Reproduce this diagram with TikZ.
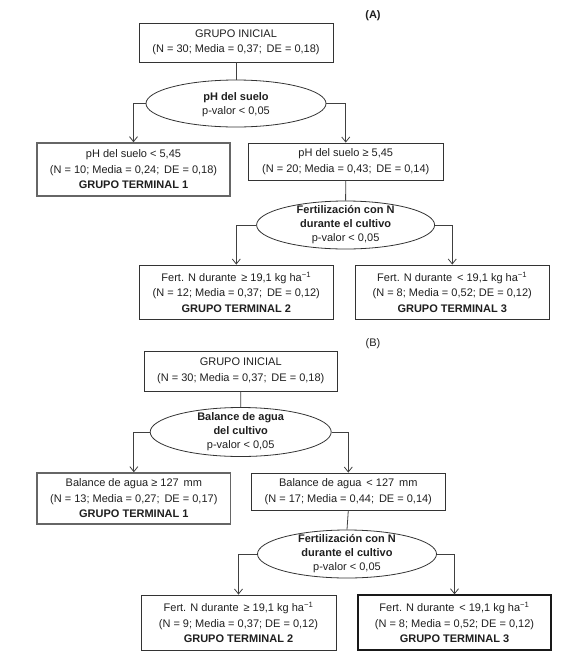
\documentclass[tikz,border=0pt]{standalone}
\usepackage{fontspec}
\setmainfont{Liberation Sans}
\usetikzlibrary{shapes.geometric,arrows.meta}
\begin{document}
\begin{tikzpicture}[x=1pt,y=-1pt,
  every node/.style={font=\fontsize{11}{15.5}\selectfont, text=black!88},
  box/.style={draw=black!80, line width=0.8pt, align=center, inner sep=0pt},
  boxL/.style={box, draw=black!60, line width=1.5pt},
  boxT/.style={box, draw=black!90, line width=1.3pt},
  ell/.style={draw=black!80, line width=0.8pt, ellipse, inner sep=0pt},
  etext/.style={align=center, inner sep=0pt, font=\fontsize{11}{14}\selectfont},
  ln/.style={draw=black!75, line width=0.8pt},
  arr/.style={ln, -{Straight Barb[length=5pt,width=8pt]}},
  lbl/.style={inner sep=0pt}
]
\useasboundingbox (0,0) rectangle (568,662);
% ---------------- (A)
\node[lbl] (la) at (373,16) {\textbf{(A)}};
\node[box, minimum width=194pt, minimum height=39pt] (a0) at (236,42.5)
  {GRUPO INICIAL\\(N = 30; Media = 0,37;\, DE = 0,18)};
\node[ell, minimum width=180pt, minimum height=47pt] (a1) at (236,103.5) {};
\node[etext] (a1t) at (236,105) {\textbf{pH del suelo}\\p-valor < 0,05};
\node[boxL, minimum width=193pt, minimum height=53pt] (a2) at (133.5,169.5)
  {pH del suelo < 5,45\\(N = 10; Media = 0,24;\, DE = 0,18)\\\textbf{GRUPO TERMINAL 1}};
\node[box, minimum width=194.5pt, minimum height=37pt] (a3) at (345.75,161.5)
  {pH del suelo ≥ 5,45\\(N = 20; Media = 0,43;\, DE = 0,14)};
\node[ell, minimum width=178pt, minimum height=48pt] (a4) at (345.6,225) {};
\node[etext] (a4t) at (345.6,225) {\textbf{Fertilización con N}\\\textbf{durante el cultivo}\\p-valor < 0,05};
\node[box, minimum width=194.6pt, minimum height=54pt] (a5) at (236.3,292)
  {Fert. N durante\, ≥ 19,1 kg ha\textsuperscript{−1}\\(N = 12; Media = 0,37;\, DE = 0,12)\\\textbf{GRUPO TERMINAL 2}};
\node[box, minimum width=193.5pt, minimum height=54pt] (a6) at (452.25,292)
  {Fert. N durante\, < 19,1 kg ha\textsuperscript{−1}\\(N = 8; Media = 0,52; DE = 0,12)\\\textbf{GRUPO TERMINAL 3}};
\draw[ln] (a0.south) -- (a1.north);
\draw[arr] (a1.west) -| (a2.north);
\draw[arr] (a1.east) -| (a3.north);
\draw[ln] (a3.south) -- (a4.north);
\draw[arr] (a4.west) -| (a5.north);
\draw[arr] (a4.east) -| (a6.north);
% ---------------- (B)
\node[lbl] (lb) at (373,344) {(B)};
\node[box, minimum width=192.5pt, minimum height=40pt] (b0) at (240.75,371)
  {GRUPO INICIAL\\(N = 30; Media = 0,37;\, DE = 0,18)};
\node[ell, minimum width=181pt, minimum height=49pt] (b1) at (240.7,432) {};
\node[etext] (b1t) at (240.7,432) {\textbf{Balance de agua}\\\textbf{del cultivo}\\p-valor < 0,05};
\node[boxL, minimum width=193.7pt, minimum height=51pt] (b2) at (133.85,498.5)
  {Balance de agua ≥ 127\, mm\\(N = 13; Media = 0,27;\, DE = 0,17)\\\textbf{GRUPO TERMINAL 1}};
\node[box, minimum width=194.6pt, minimum height=37pt] (b3) at (348.3,491.5)
  {Balance de agua\, < 127\, mm\\(N = 17; Media = 0,44;\, DE = 0,14)};
\node[ell, minimum width=179pt, minimum height=48pt] (b4) at (347,554) {};
\node[etext] (b4t) at (347,554) {\textbf{Fertilización con N}\\\textbf{durante el cultivo}\\p-valor < 0,05};
\node[box, minimum width=195pt, minimum height=55pt] (b5) at (238.5,622.5)
  {Fert. N durante\, ≥ 19,1 kg ha\textsuperscript{−1}\\(N = 9; Media = 0,37; DE = 0,12)\\\textbf{GRUPO TERMINAL 2}};
\node[boxT, minimum width=193pt, minimum height=55pt] (b6) at (454.5,622.5)
  {Fert. N durante\, < 19,1 kg ha\textsuperscript{−1}\\(N = 8; Media = 0,52; DE = 0,12)\\\textbf{GRUPO TERMINAL 3}};
\draw[ln] (b0.south) -- (b1.north);
\draw[arr] (b1.west) -| (b2.north);
\draw[arr] (b1.east) -| (b3.north);
\draw[ln] (b3.south) -- (b4.north);
\draw[arr] (b4.west) -| (b5.north);
\draw[arr] (b4.east) -| (b6.north);
\end{tikzpicture}
\end{document}
